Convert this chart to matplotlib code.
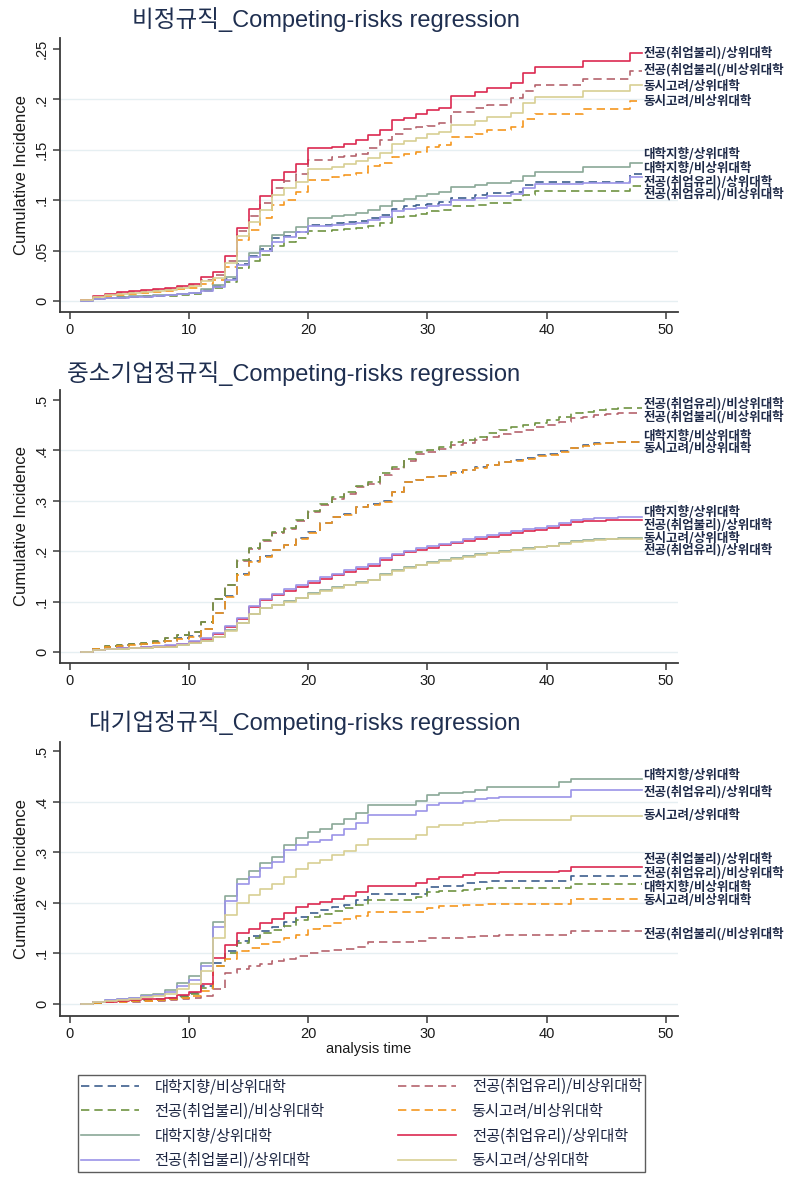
import matplotlib
matplotlib.use('Agg')
import matplotlib.pyplot as plt
from matplotlib.lines import Line2D

plt.rcParams['font.family'] = ['Liberation Sans', 'Noto Sans CJK KR']

### series names (legend order)
series_names = ['대학지향/비상위대학', '전공(취업유리)/비상위대학', '전공(취업불리)/비상위대학', '동시고려/비상위대학',
                '대학지향/상위대학', '전공(취업유리)/상위대학', '전공(취업불리)/상위대학', '동시고려/상위대학']
panel_titles = ['비정규직_Competing-risks regression',
                '중소기업정규직_Competing-risks regression',
                '대기업정규직_Competing-risks regression']
end_time = 48
x_ticks = [0, 10, 20, 30, 40, 50]

### panel 1 : 비정규직
p1_time = [1, 2, 3, 4, 5, 6, 7, 8, 9, 10, 11, 12, 13, 14, 15, 16, 17, 18, 19, 20,
           22, 23, 24, 25, 26, 27, 28, 29, 30, 31, 32, 34, 35, 37, 38, 39, 43, 47]
p1_univ_nontop = [0.000, 0.002, 0.003, 0.004, 0.004, 0.005, 0.005, 0.006, 0.007, 0.008, 0.011, 0.015, 0.022,
                  0.037, 0.045, 0.052, 0.062, 0.064, 0.068, 0.075, 0.077, 0.078, 0.079, 0.082, 0.085, 0.091,
                  0.094, 0.095, 0.096, 0.098, 0.102, 0.105, 0.107, 0.108, 0.115, 0.118, 0.118, 0.126]
p1_good_nontop = [0.001, 0.004, 0.006, 0.008, 0.009, 0.010, 0.011, 0.012, 0.014, 0.016, 0.021, 0.026, 0.040,
                  0.069, 0.084, 0.097, 0.112, 0.119, 0.126, 0.140, 0.143, 0.144, 0.146, 0.152, 0.160, 0.166,
                  0.171, 0.173, 0.174, 0.177, 0.188, 0.192, 0.194, 0.201, 0.208, 0.214, 0.220, 0.228]
p1_poor_nontop = [0.000, 0.002, 0.003, 0.003, 0.004, 0.004, 0.005, 0.005, 0.006, 0.007, 0.010, 0.013, 0.019,
                  0.033, 0.040, 0.046, 0.055, 0.058, 0.062, 0.069, 0.070, 0.071, 0.072, 0.074, 0.077, 0.083,
                  0.084, 0.086, 0.089, 0.090, 0.094, 0.095, 0.097, 0.100, 0.105, 0.109, 0.109, 0.114]
p1_both_nontop = [0.001, 0.003, 0.005, 0.006, 0.007, 0.008, 0.009, 0.010, 0.012, 0.013, 0.017, 0.021, 0.034,
                  0.060, 0.070, 0.082, 0.095, 0.100, 0.108, 0.120, 0.123, 0.125, 0.127, 0.134, 0.137, 0.143,
                  0.146, 0.148, 0.153, 0.155, 0.163, 0.166, 0.170, 0.173, 0.181, 0.186, 0.191, 0.198]
p1_univ_top = [0.000, 0.002, 0.003, 0.004, 0.005, 0.005, 0.006, 0.006, 0.007, 0.008, 0.012, 0.016, 0.024,
               0.040, 0.048, 0.055, 0.065, 0.068, 0.073, 0.082, 0.084, 0.085, 0.087, 0.090, 0.094, 0.099,
               0.101, 0.104, 0.106, 0.108, 0.113, 0.115, 0.117, 0.119, 0.124, 0.128, 0.133, 0.137]
p1_good_top = [0.001, 0.005, 0.007, 0.009, 0.010, 0.011, 0.012, 0.013, 0.015, 0.017, 0.024, 0.029, 0.045,
               0.072, 0.091, 0.104, 0.120, 0.128, 0.136, 0.152, 0.153, 0.156, 0.160, 0.165, 0.170, 0.180,
               0.182, 0.186, 0.190, 0.192, 0.203, 0.207, 0.211, 0.216, 0.226, 0.232, 0.238, 0.246]
p1_poor_top = [0.000, 0.002, 0.003, 0.003, 0.004, 0.004, 0.005, 0.006, 0.007, 0.008, 0.010, 0.014, 0.021,
               0.036, 0.044, 0.050, 0.058, 0.063, 0.068, 0.074, 0.075, 0.076, 0.077, 0.080, 0.083, 0.089,
               0.091, 0.092, 0.094, 0.095, 0.100, 0.102, 0.104, 0.106, 0.112, 0.116, 0.117, 0.123]
p1_both_top = [0.001, 0.004, 0.006, 0.007, 0.008, 0.009, 0.010, 0.011, 0.013, 0.015, 0.020, 0.023, 0.038,
               0.064, 0.078, 0.090, 0.105, 0.112, 0.118, 0.131, 0.133, 0.136, 0.139, 0.142, 0.147, 0.156,
               0.159, 0.162, 0.166, 0.168, 0.175, 0.179, 0.183, 0.187, 0.196, 0.202, 0.208, 0.214]
p1_label_text = ['전공(취업불리)/상위대학', '전공(취업불리(/비상위대학', '동시고려/상위대학', '동시고려/비상위대학',
                 '대학지향/상위대학', '대학지향/비상위대학', '전공(취업유리)/상위대학', '전공(취업유리)/비상위대학']
p1_label_y = [0.246, 0.229, 0.213, 0.198, 0.145, 0.131, 0.118, 0.106]

### panel 2 : 중소기업정규직
p2_time = [1, 2, 3, 4, 5, 6, 7, 8, 9, 10, 11, 12, 13, 14, 15, 16, 17, 18, 19, 20, 21, 22, 23,
           24, 25, 26, 27, 28, 29, 30, 31, 32, 33, 34, 35, 36, 37, 38, 39, 40, 41, 42, 43, 44, 45, 46]
p2_univ_nontop = [0.000, 0.005, 0.010, 0.012, 0.015, 0.016, 0.019, 0.022, 0.027, 0.031, 0.046, 0.078, 0.111,
                  0.154, 0.180, 0.190, 0.203, 0.213, 0.226, 0.238, 0.256, 0.268, 0.273, 0.288, 0.293, 0.299,
                  0.318, 0.338, 0.342, 0.347, 0.350, 0.357, 0.362, 0.367, 0.372, 0.378, 0.381, 0.385, 0.390,
                  0.392, 0.398, 0.405, 0.410, 0.414, 0.415, 0.417]
p2_good_nontop = [0.000, 0.006, 0.011, 0.014, 0.016, 0.018, 0.022, 0.028, 0.033, 0.040, 0.060, 0.105, 0.132,
                  0.181, 0.204, 0.220, 0.236, 0.245, 0.259, 0.277, 0.291, 0.304, 0.314, 0.327, 0.334, 0.352,
                  0.364, 0.380, 0.393, 0.397, 0.402, 0.411, 0.415, 0.420, 0.426, 0.432, 0.437, 0.441, 0.446,
                  0.451, 0.457, 0.464, 0.467, 0.471, 0.473, 0.475]
p2_poor_nontop = [0.000, 0.006, 0.011, 0.014, 0.016, 0.018, 0.022, 0.028, 0.033, 0.040, 0.060, 0.106, 0.133,
                  0.183, 0.206, 0.222, 0.239, 0.247, 0.262, 0.280, 0.294, 0.307, 0.317, 0.330, 0.337, 0.356,
                  0.368, 0.384, 0.397, 0.401, 0.407, 0.417, 0.421, 0.427, 0.434, 0.440, 0.446, 0.450, 0.455,
                  0.460, 0.467, 0.474, 0.477, 0.481, 0.482, 0.484]
p2_both_nontop = [0.000, 0.005, 0.009, 0.012, 0.014, 0.016, 0.018, 0.022, 0.026, 0.030, 0.045, 0.077, 0.110,
                  0.153, 0.179, 0.189, 0.202, 0.212, 0.225, 0.237, 0.255, 0.268, 0.272, 0.288, 0.292, 0.298,
                  0.318, 0.338, 0.341, 0.347, 0.349, 0.356, 0.361, 0.366, 0.371, 0.378, 0.380, 0.384, 0.389,
                  0.391, 0.397, 0.404, 0.409, 0.413, 0.414, 0.416]
p2_univ_top = [0.000, 0.003, 0.005, 0.006, 0.007, 0.008, 0.009, 0.010, 0.013, 0.017, 0.022, 0.030, 0.043,
               0.058, 0.076, 0.088, 0.094, 0.101, 0.108, 0.116, 0.122, 0.128, 0.133, 0.138, 0.143, 0.154,
               0.162, 0.168, 0.173, 0.178, 0.182, 0.186, 0.190, 0.194, 0.197, 0.200, 0.203, 0.206, 0.209,
               0.211, 0.216, 0.220, 0.222, 0.224, 0.225, 0.226]
p2_good_top = [0.000, 0.004, 0.006, 0.007, 0.008, 0.009, 0.010, 0.012, 0.015, 0.020, 0.026, 0.035, 0.050,
               0.066, 0.090, 0.104, 0.113, 0.121, 0.129, 0.137, 0.145, 0.152, 0.159, 0.165, 0.171, 0.183,
               0.192, 0.198, 0.203, 0.207, 0.212, 0.216, 0.220, 0.224, 0.228, 0.232, 0.236, 0.240, 0.243,
               0.246, 0.252, 0.257, 0.259, 0.260, 0.261, 0.262]
p2_poor_top = [0.000, 0.004, 0.006, 0.007, 0.008, 0.009, 0.011, 0.013, 0.016, 0.021, 0.028, 0.037, 0.052,
               0.068, 0.092, 0.106, 0.115, 0.124, 0.132, 0.140, 0.148, 0.155, 0.162, 0.168, 0.174, 0.186,
               0.195, 0.201, 0.206, 0.211, 0.215, 0.219, 0.224, 0.228, 0.232, 0.236, 0.240, 0.244, 0.247,
               0.250, 0.256, 0.261, 0.264, 0.265, 0.266, 0.267]
p2_both_top = [0.000, 0.003, 0.005, 0.006, 0.007, 0.008, 0.009, 0.010, 0.013, 0.017, 0.022, 0.030, 0.042,
               0.057, 0.075, 0.087, 0.093, 0.100, 0.107, 0.115, 0.121, 0.127, 0.132, 0.137, 0.142, 0.153,
               0.161, 0.167, 0.172, 0.177, 0.181, 0.185, 0.189, 0.193, 0.196, 0.199, 0.202, 0.205, 0.208,
               0.210, 0.215, 0.219, 0.221, 0.223, 0.224, 0.225]
p2_label_text = ['전공(취업유리)/비상위대학', '전공(취업불리(/비상위대학', '대학지향/비상위대학', '동시고려/비상위대학',
                 '대학지향/상위대학', '전공(취업불리)/상위대학', '동시고려/상위대학', '전공(취업유리)/상위대학']
p2_label_y = [0.492, 0.466, 0.427, 0.403, 0.276, 0.252, 0.226, 0.202]

### panel 3 : 대기업정규직
p3_time = [1, 2, 3, 4, 5, 6, 7, 8, 9, 10, 11, 12, 13, 14, 15, 16, 17, 18, 19, 20, 21, 22, 23, 24, 25,
           29, 30, 31, 33, 34, 35, 36, 41, 42]
p3_univ_nontop = [0.000, 0.002, 0.004, 0.005, 0.006, 0.008, 0.009, 0.011, 0.015, 0.022, 0.035, 0.080, 0.105,
                  0.125, 0.135, 0.145, 0.152, 0.162, 0.172, 0.180, 0.186, 0.192, 0.196, 0.206, 0.218,
                  0.218, 0.231, 0.234, 0.239, 0.241, 0.243, 0.243, 0.243, 0.253]
p3_good_nontop = [0.000, 0.002, 0.003, 0.004, 0.004, 0.005, 0.006, 0.007, 0.009, 0.012, 0.016, 0.030, 0.061,
                  0.068, 0.074, 0.078, 0.084, 0.088, 0.094, 0.100, 0.104, 0.106, 0.108, 0.113, 0.122,
                  0.125, 0.130, 0.131, 0.133, 0.134, 0.135, 0.136, 0.137, 0.144]
p3_poor_nontop = [0.000, 0.002, 0.004, 0.005, 0.006, 0.007, 0.008, 0.010, 0.014, 0.020, 0.032, 0.075, 0.100,
                  0.120, 0.130, 0.140, 0.147, 0.155, 0.165, 0.172, 0.178, 0.183, 0.190, 0.196, 0.206,
                  0.211, 0.221, 0.223, 0.226, 0.228, 0.230, 0.230, 0.230, 0.238]
p3_both_nontop = [0.000, 0.002, 0.003, 0.004, 0.005, 0.006, 0.007, 0.009, 0.012, 0.016, 0.025, 0.075, 0.089,
                  0.105, 0.110, 0.118, 0.123, 0.130, 0.137, 0.149, 0.155, 0.160, 0.167, 0.173, 0.181,
                  0.181, 0.190, 0.193, 0.195, 0.196, 0.197, 0.198, 0.198, 0.207]
p3_univ_top = [0.000, 0.004, 0.008, 0.010, 0.012, 0.018, 0.020, 0.027, 0.042, 0.055, 0.081, 0.161, 0.213,
               0.247, 0.263, 0.279, 0.291, 0.315, 0.328, 0.339, 0.345, 0.355, 0.365, 0.378, 0.393,
               0.401, 0.413, 0.417, 0.419, 0.423, 0.428, 0.429, 0.439, 0.444]
p3_good_top = [0.000, 0.003, 0.004, 0.006, 0.008, 0.009, 0.010, 0.012, 0.018, 0.024, 0.040, 0.091, 0.117,
               0.140, 0.148, 0.160, 0.168, 0.180, 0.191, 0.197, 0.202, 0.208, 0.214, 0.222, 0.234,
               0.239, 0.247, 0.251, 0.255, 0.258, 0.259, 0.261, 0.263, 0.270]
p3_poor_top = [0.000, 0.004, 0.007, 0.009, 0.011, 0.015, 0.017, 0.023, 0.036, 0.048, 0.075, 0.153, 0.203,
               0.238, 0.250, 0.268, 0.280, 0.305, 0.315, 0.320, 0.325, 0.335, 0.345, 0.358, 0.374,
               0.382, 0.393, 0.398, 0.401, 0.405, 0.408, 0.410, 0.410, 0.423]
p3_both_top = [0.000, 0.003, 0.006, 0.008, 0.010, 0.013, 0.015, 0.020, 0.030, 0.040, 0.065, 0.130, 0.175,
               0.200, 0.215, 0.228, 0.237, 0.250, 0.266, 0.279, 0.284, 0.294, 0.302, 0.314, 0.327,
               0.335, 0.349, 0.353, 0.358, 0.360, 0.362, 0.363, 0.363, 0.372]
p3_label_text = ['대학지향/상위대학', '전공(취업유리)/상위대학', '동시고려/상위대학', '전공(취업불리)/상위대학',
                 '전공(취업유리)/비상위대학', '대학지향/비상위대학', '동시고려/비상위대학', '전공(취업불리(/비상위대학']
p3_label_y = [0.452, 0.419, 0.373, 0.286, 0.260, 0.231, 0.205, 0.139]

p1_ticks = [0, 0.05, 0.1, 0.15, 0.2, 0.25]
p1_ticklabels = ['0', '.05', '.1', '.15', '.2', '.25']
p23_ticks = [0, 0.1, 0.2, 0.3, 0.4, 0.5]
p23_ticklabels = ['0', '.1', '.2', '.3', '.4', '.5']

### styles
colors = ['#3d5f8e', '#b5636d', '#6f9442', '#f5971f', '#8aa897', '#dc2950', '#9b94e8', '#d8cf93']
dashed = [True, True, True, True, False, False, False, False]
text_col = '#1e2a48'

panels = [
    (p1_time, [p1_univ_nontop, p1_good_nontop, p1_poor_nontop, p1_both_nontop,
               p1_univ_top, p1_good_top, p1_poor_top, p1_both_top],
     p1_label_text, p1_label_y, p1_ticks, p1_ticklabels, (-0.011, 0.261)),
    (p2_time, [p2_univ_nontop, p2_good_nontop, p2_poor_nontop, p2_both_nontop,
               p2_univ_top, p2_good_top, p2_poor_top, p2_both_top],
     p2_label_text, p2_label_y, p23_ticks, p23_ticklabels, (-0.022, 0.520)),
    (p3_time, [p3_univ_nontop, p3_good_nontop, p3_poor_nontop, p3_both_nontop,
               p3_univ_top, p3_good_top, p3_poor_top, p3_both_top],
     p3_label_text, p3_label_y, p23_ticks, p23_ticklabels, (-0.024, 0.518)),
]

W, H = 792, 1180
fig = plt.figure(figsize=(W / 100, H / 100), dpi=100)
fig.patch.set_facecolor('white')

# axes boxes in pixels: top, bottom
boxes = [(38, 312), (390, 663), (742, 1016)]
title_y = [20, 374, 723]

for k, (t, series, lab_txt, lab_y, yt, ytl, ylim) in enumerate(panels):
    top, bot = boxes[k]
    ax = fig.add_axes([60 / W, 1 - bot / H, 618 / W, (bot - top) / H])
    for s in range(len(series)):
        xs = t + [end_time]
        ys = series[s] + [series[s][-1]]
        if dashed[s]:
            ax.step(xs, ys, where='post', color=colors[s], lw=1.2, dashes=(5, 3))
        else:
            ax.step(xs, ys, where='post', color=colors[s], lw=1.2)
    for txt, yy in zip(lab_txt, lab_y):
        ax.text(48.1, yy, txt, fontsize=9, fontweight='bold', color=text_col,
                va='center', ha='left', family=['Noto Sans CJK KR'])
    for g in yt[:-1]:
        ax.axhline(g, color='#e6eff2', lw=1.0, zorder=0)
    ax.set_xlim(-0.8, 51.0)
    ax.set_ylim(*ylim)
    ax.set_xticks(x_ticks)
    ax.set_yticks(yt)
    ax.set_yticklabels(ytl, rotation=90, va='center')
    for sp in ['top', 'right']:
        ax.spines[sp].set_visible(False)
    for sp in ['left', 'bottom']:
        ax.spines[sp].set_color('#3a3a3a')
        ax.spines[sp].set_linewidth(1.3)
    ax.tick_params(axis='both', colors='#3a3a3a', labelcolor='#1a1a1a', labelsize=10.5,
                   length=5, width=1.1, direction='out')
    ax.tick_params(axis='x', pad=3)
    ax.tick_params(axis='y', pad=3)
    ax.set_ylabel('Cumulative Incidence', fontsize=12, color='#1a1a1a', labelpad=4)
    fig.text(520 / W, 1 - title_y[k] / H, panel_titles[k], fontsize=17, color='#1f2f50',
             ha='right', va='center')
    if k == 2:
        ax.set_xlabel('analysis time', fontsize=10.5, color='#1a1a1a', labelpad=1)

### legend, row-major order
handles = []
for s in range(len(series_names)):
    if dashed[s]:
        handles.append(Line2D([], [], color=colors[s], lw=1.2, dashes=(5, 3)))
    else:
        handles.append(Line2D([], [], color=colors[s], lw=1.2))
order = [0, 2, 4, 6, 1, 3, 5, 7]
leg = fig.legend([handles[i] for i in order], [series_names[i] for i in order], ncol=2,
                 loc='upper left', bbox_to_anchor=(78 / W, 1 - 1175 / H, 567 / W, 100 / H),
                 mode='expand', fontsize=11, handlelength=3.8, handletextpad=1.0,
                 labelspacing=0.5, borderaxespad=0, frameon=True, fancybox=False,
                 borderpad=0.2, columnspacing=1.5)
leg.get_frame().set_edgecolor('#333333')
leg.get_frame().set_linewidth(1.0)
for txt in leg.get_texts():
    txt.set_color('#1c2541')
    txt.set_family(['Noto Sans CJK KR'])

fig.savefig('out.png', dpi=100, facecolor='white')
